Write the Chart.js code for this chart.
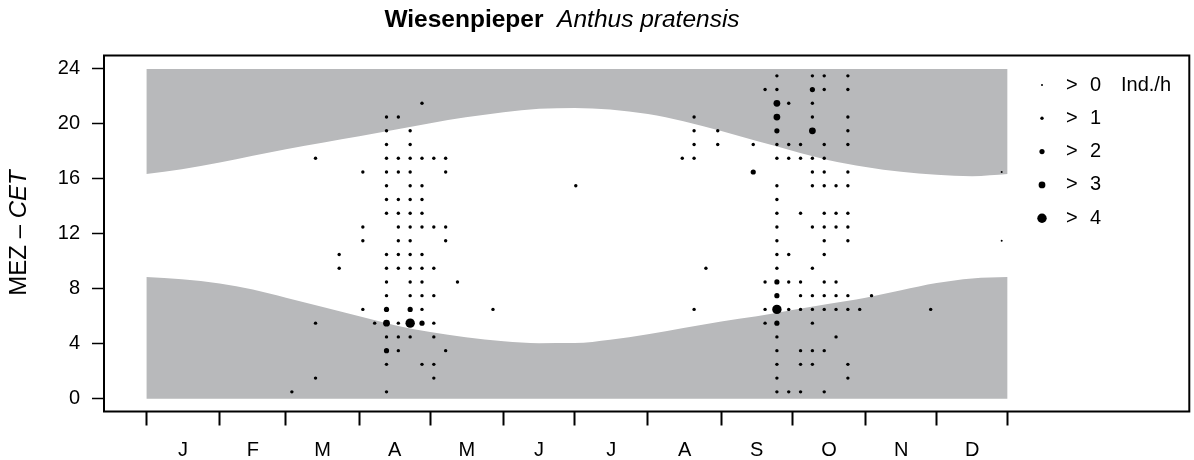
<!DOCTYPE html>
<html>
<head>
<meta charset="utf-8">
<script src="https://cdn.jsdelivr.net/npm/chart.js@4.4.0/dist/chart.umd.min.js"></script>
<style>
  html, body { margin: 0; padding: 0; background: #fff; }
</style>
</head>
<body>
<canvas id="chart" width="1194" height="460"></canvas>
<script>
// axis: day of year, month starts get tick marks, letters sit in between
const monthStarts = [1, 32, 60, 91, 121, 152, 182, 213, 244, 274, 305, 335, 365];
const monthLabels = ['J', 'F', 'M', 'A', 'M', 'J', 'J', 'A', 'S', 'O', 'N', 'D'];
const hourTicks = [0, 4, 8, 12, 16, 20, 24];

// dusk / dawn lines (hour CET)
const curveDays = [1, 16, 32, 46, 60, 76, 91, 106, 121, 136, 152, 167, 182, 197, 213, 228, 244, 259, 274, 289, 305, 320, 335, 350, 365];
const duskHours = [16.36, 16.7, 17.19, 17.68, 18.16, 18.65, 19.1, 19.58, 20.05, 20.48, 20.85, 21.1, 21.16, 21.05, 20.72, 20.2, 19.48, 18.75, 18.05, 17.38, 16.87, 16.52, 16.3, 16.2, 16.36];
const dawnHours = [8.85, 8.7, 8.39, 7.95, 7.35, 6.65, 6.0, 5.35, 4.85, 4.48, 4.18, 4.04, 4.05, 4.3, 4.7, 5.15, 5.62, 6.0, 6.45, 6.9, 7.35, 7.9, 8.42, 8.75, 8.85];

// observations: for each hour slot the pentads (1..73) with birds
const hourSlots = [0.5, 1.5, 2.5, 3.5, 4.5, 5.5, 6.5, 7.5, 8.5, 9.5, 10.5, 11.5,
                   12.5, 13.5, 14.5, 15.5, 16.5, 17.5, 18.5, 19.5, 20.5, 21.5, 22.5, 23.5];
const pentadsByHour = [
  [13, 21, 54, 55, 56, 58],
  [15, 25, 54, 60],
  [21, 24, 25, 54, 56, 57, 60],
  [21, 22, 26, 54, 56, 57, 58],
  [21, 22, 23, 25, 54, 59],
  [15, 20, 21, 22, 23, 24, 25, 53, 54, 57],
  [19, 21, 23, 24, 30, 47, 53, 54, 55, 56, 57, 58, 59, 60, 61, 67],
  [21, 23, 24, 25, 54, 56, 57, 58, 59, 60, 62],
  [21, 23, 24, 27, 53, 54, 55, 56, 58, 59],
  [17, 21, 22, 23, 24, 25, 48, 54, 57],
  [17, 21, 22, 23, 24, 54, 55, 58],
  [19, 22, 23, 26, 54, 58, 60, 73],
  [19, 22, 23, 24, 25, 26, 54, 57, 58, 59, 60],
  [21, 22, 23, 24, 54, 56, 58, 59, 60],
  [21, 22, 23, 24, 54],
  [21, 23, 24, 37, 54, 57, 58, 59, 60],
  [19, 21, 22, 23, 26, 52, 57, 58, 60, 73],
  [15, 21, 22, 23, 24, 25, 26, 46, 47, 54, 55, 56, 57, 58],
  [21, 23, 47, 49, 52, 54, 55, 56, 58, 60],
  [21, 23, 47, 49, 54, 57, 60],
  [21, 22, 47, 54, 57, 60],
  [24, 54, 55, 57],
  [53, 54, 57, 58, 60],
  [54, 57, 58, 60]
];
// everything is class 1 (> 1 Ind./h) except these
const markPentads = [21, 21, 23, 24, 21, 23, 54, 54, 54, 54, 52, 54, 57, 54, 54, 57, 73, 73];
const markHours   = [3.5, 5.5, 5.5, 5.5, 6.5, 6.5, 5.5, 6.5, 7.5, 8.5, 16.5, 19.5, 19.5, 20.5, 21.5, 22.5, 11.5, 16.5];
const markClasses = [2, 3, 4, 2, 2, 2, 2, 4, 2, 2, 2, 2, 3, 3, 3, 2, 0, 0];

const classLabels = ['> 0', '> 1', '> 2', '> 3', '> 4'];
const classRadius = [1.0, 1.7, 2.6, 3.4, 4.7];

const FONT = '"Liberation Sans", Arial, Helvetica, sans-serif';
const GREY = '#b8b9bb';

const monthMids = monthLabels.map((m, i) => (monthStarts[i] + monthStarts[i + 1]) / 2);

function classOf(p, h) {
  for (let i = 0; i < markPentads.length; i++) {
    if (markPentads[i] === p && markHours[i] === h) return markClasses[i];
  }
  return 1;
}

const dots = [];
hourSlots.forEach((h, i) => {
  pentadsByHour[i].forEach(p => {
    dots.push({ x: 5 * p - 2.5, y: h, c: classOf(p, h) });
  });
});

const dusk = curveDays.map((d, i) => ({ x: d, y: duskHours[i] }));
const dawn = curveDays.map((d, i) => ({ x: d, y: dawnHours[i] }));

const decorPlugin = {
  id: 'decor',
  afterDraw(chart) {
    const { ctx, chartArea } = chart;
    ctx.save();
    // box
    ctx.strokeStyle = '#000';
    ctx.lineWidth = 2;
    ctx.strokeRect(chartArea.left, chartArea.top, chartArea.right - chartArea.left, chartArea.bottom - chartArea.top);

    ctx.fillStyle = '#000';
    ctx.textBaseline = 'middle';

    // title
    const t1 = 'Wiesenpieper', t2 = 'Anthus pratensis';
    ctx.font = 'bold 24.5px ' + FONT;
    const w1 = ctx.measureText(t1 + '  ').width;
    ctx.font = 'italic 24.5px ' + FONT;
    const w2 = ctx.measureText(t2).width;
    let tx = 562 - (w1 + w2) / 2;
    ctx.textAlign = 'left';
    ctx.font = 'bold 24.5px ' + FONT;
    ctx.fillText(t1, tx, 20);
    ctx.font = 'italic 24.5px ' + FONT;
    ctx.fillText(t2, tx + w1, 20);

    // y axis title
    ctx.save();
    ctx.translate(19, 233);
    ctx.rotate(-Math.PI / 2);
    ctx.font = '24px ' + FONT;
    const a = 'MEZ \u2013 ';
    const wa = ctx.measureText(a).width;
    ctx.font = 'italic 24px ' + FONT;
    const wb = ctx.measureText('CET').width;
    ctx.font = '24px ' + FONT;
    ctx.fillText(a, -(wa + wb) / 2, 0);
    ctx.font = 'italic 24px ' + FONT;
    ctx.fillText('CET', -(wa + wb) / 2 + wa, 0);
    ctx.restore();

    // legend
    ctx.font = '20px ' + FONT;
    classLabels.forEach((lab, i) => {
      const y = 85 + i * 33.3;
      ctx.beginPath();
      ctx.arc(1042, y, classRadius[i], 0, Math.PI * 2);
      ctx.fill();
      const parts = lab.split(' ');
      ctx.fillText(parts[0], 1066, y);
      ctx.fillText(parts[1], 1090, y);
      if (i === 0) ctx.fillText('Ind./h', 1121, y);
    });
    ctx.restore();
  }
};

new Chart(document.getElementById('chart'), {
  type: 'scatter',
  data: {
    datasets: [
      {
        data: dots,
        order: 1,
        backgroundColor: '#000',
        borderWidth: 0,
        pointRadius: ctx => classRadius[ctx.raw ? ctx.raw.c : 1],
        pointHoverRadius: ctx => classRadius[ctx.raw ? ctx.raw.c : 1]
      },
      {
        data: dusk,
        order: 2,
        showLine: true,
        pointRadius: 0,
        borderWidth: 0,
        borderColor: GREY,
        backgroundColor: GREY,
        cubicInterpolationMode: 'monotone',
        fill: { value: 24 }
      },
      {
        data: dawn,
        order: 3,
        showLine: true,
        pointRadius: 0,
        borderWidth: 0,
        borderColor: GREY,
        backgroundColor: GREY,
        cubicInterpolationMode: 'monotone',
        fill: { value: 0 }
      }
    ]
  },
  options: {
    responsive: false,
    animation: false,
    devicePixelRatio: 1,
    layout: { padding: { top: 55.5, right: 1, left: 0, bottom: 0 } },
    plugins: { legend: { display: false }, tooltip: { enabled: false } },
    scales: {
      x: {
        type: 'linear',
        min: -16.9,
        max: 441.8,
        afterBuildTicks: s => {
          s.ticks = monthStarts.concat(monthMids).sort((a, b) => a - b).map(v => ({ value: v }));
        },
        afterFit: s => { s.height = 48.5; },
        ticks: {
          autoSkip: false,
          maxRotation: 0,
          padding: 13,
          color: '#000',
          font: { family: FONT, size: 20 },
          callback: v => {
            const i = monthMids.indexOf(v);
            return i >= 0 ? monthLabels[i] : '';
          }
        },
        grid: {
          drawOnChartArea: false,
          tickLength: 14,
          tickWidth: 2,
          tickColor: ctx => (ctx.tick && monthStarts.includes(ctx.tick.value)) ? '#000' : 'rgba(0,0,0,0)'
        },
        border: { display: false }
      },
      y: {
        type: 'linear',
        min: -0.93,
        max: 24.98,
        afterBuildTicks: s => { s.ticks = hourTicks.map(v => ({ value: v })); },
        afterFit: s => { s.width = 104; },
        ticks: {
          padding: 12,
          color: '#000',
          font: { family: FONT, size: 20 }
        },
        grid: {
          drawOnChartArea: false,
          tickLength: 12,
          tickWidth: 1.5,
          tickColor: '#000'
        },
        border: { display: false }
      }
    }
  },
  plugins: [decorPlugin]
});
</script>
</body>
</html>
